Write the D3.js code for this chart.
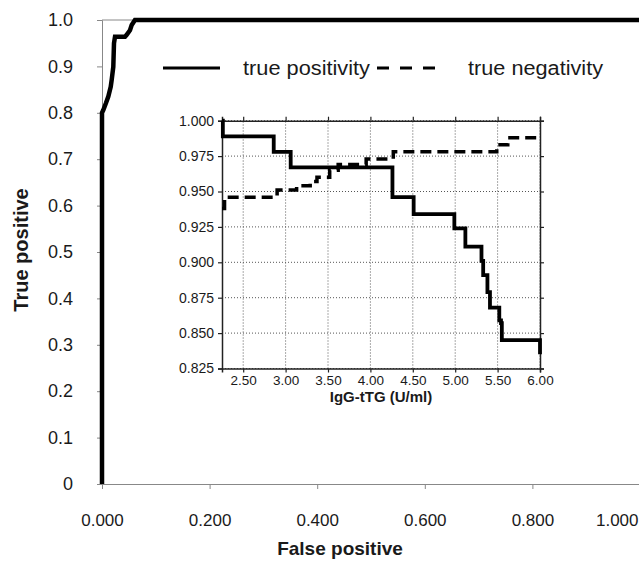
<!DOCTYPE html>
<html><head><meta charset="utf-8">
<script src="https://cdn.jsdelivr.net/npm/d3@7"></script>
<style>body{margin:0;background:#fff}svg{display:block}text{font-family:Arial,"Liberation Sans",sans-serif;fill:#1a1a1a}</style>
</head><body>
<script>
// ---- Main ROC data (false positive rate, true positive rate)
const rocFP = [0, 0, 0.0024, 0.0074, 0.0117, 0.0162, 0.018, 0.021, 0.0223, 0.0242, 0.0428, 0.0459, 0.052, 0.0552, 0.0613, 1.0];
const rocTP = [0, 0.80, 0.806, 0.821, 0.835, 0.856, 0.871, 0.899, 0.950, 0.964, 0.964, 0.968, 0.978, 0.989, 1.0, 1.0];
const mainXTicks = [0, 0.2, 0.4, 0.6, 0.8, 1.0];
const mainXLabels = ["0.000", "0.200", "0.400", "0.600", "0.800", "1.000"];
const mainYTicks = [0, 0.1, 0.2, 0.3, 0.4, 0.5, 0.6, 0.7, 0.8, 0.9, 1.0];
const mainYLabels = ["0", "0.1", "0.2", "0.3", "0.4", "0.5", "0.6", "0.7", "0.8", "0.9", "1.0"];

// ---- Inset data: cut-off (IgG-tTG U/ml) vs positivity / negativity
const posCut = [2.25, 2.26, 2.86, 3.06, 4.26, 4.51, 4.99, 5.12, 5.31, 5.33, 5.38, 5.41, 5.52, 5.54, 5.55, 6.00];
const truePositivity = [1.000, 0.989, 0.978, 0.967, 0.946, 0.934, 0.924, 0.911, 0.901, 0.891, 0.879, 0.868, 0.859, 0.857, 0.845, 0.835];
const negCut = [2.25, 2.28, 2.90, 3.13, 3.29, 3.37, 3.52, 3.62, 3.95, 4.27, 5.49, 5.62, 6.00];
const trueNegativity = [0.938, 0.946, 0.951, 0.954, 0.957, 0.960, 0.965, 0.969, 0.973, 0.978, 0.983, 0.988, 0.988];
const insetXTicks = [2.5, 3.0, 3.5, 4.0, 4.5, 5.0, 5.5, 6.0];
const insetYTicks = [0.825, 0.85, 0.875, 0.9, 0.925, 0.95, 0.975, 1.0];
const legendLabels = ["true positivity", "true negativity"];

const W = 639, H = 561;
const svg = d3.select("body").append("svg").attr("width", W).attr("height", H);
svg.append("rect").attr("width", W).attr("height", H).attr("fill", "#fff");

// ---- Main chart
const x = d3.scaleLinear().domain([0, 1]).range([102, 640]);
const y = d3.scaleLinear().domain([0, 1]).range([484, 20]);

// plot border (top)
svg.append("line").attr("x1", x(0)).attr("x2", W).attr("y1", y(1)).attr("y2", y(1))
  .attr("stroke", "#888").attr("stroke-width", 1);

const gx = svg.append("g").attr("transform", `translate(0,${y(0)})`)
  .call(d3.axisBottom(x).tickValues(mainXTicks).tickFormat((d, i) => mainXLabels[i]).tickSizeOuter(0).tickSize(5).tickPadding(25));
const gy = svg.append("g").attr("transform", `translate(${x(0)},0)`)
  .call(d3.axisLeft(y).tickValues(mainYTicks).tickFormat((d, i) => mainYLabels[i]).tickSizeOuter(0).tickSize(5).tickPadding(24));
[gx, gy].forEach(g => {
  g.select(".domain").attr("stroke", "#888");
  g.selectAll(".tick line").attr("stroke", "#888");
  g.selectAll("text").style("font-size", "17px").attr("fill", "#1a1a1a");
});
gy.selectAll("text").style("font-size", "18px");
// keep last x label inside the picture
gx.selectAll(".tick").filter(d => d === 1).select("text").attr("text-anchor", "end").attr("x", W - x(1) - 1);

svg.append("text").attr("x", 340).attr("y", 555).attr("text-anchor", "middle")
  .style("font-size", "19px").style("font-weight", "bold").text("False positive");
svg.append("text").attr("transform", "translate(28,250) rotate(-90)").attr("text-anchor", "middle")
  .style("font-size", "20px").style("font-weight", "bold").text("True positive");

const roc = d3.line().x(d => x(d[0])).y(d => y(d[1]));
svg.append("path").datum(rocFP.map((v, i) => [v, rocTP[i]]))
  .attr("d", roc).attr("fill", "none").attr("stroke", "#000").attr("stroke-width", 4.5)
  .attr("stroke-linejoin", "miter");

// ---- Legend
svg.append("line").attr("x1", 163).attr("x2", 220).attr("y1", 68).attr("y2", 68).attr("stroke", "#000").attr("stroke-width", 3);
svg.append("text").attr("x", 243).attr("y", 75).style("font-size", "20px")
  .attr("textLength", 127).attr("lengthAdjust", "spacingAndGlyphs").text(legendLabels[0]);
svg.append("line").attr("x1", 377).attr("x2", 435).attr("y1", 68).attr("y2", 68).attr("stroke", "#000").attr("stroke-width", 3)
  .attr("stroke-dasharray", "12,11");
svg.append("text").attr("x", 468).attr("y", 75).style("font-size", "20px")
  .attr("textLength", 135).attr("lengthAdjust", "spacingAndGlyphs").text(legendLabels[1]);

// ---- Inset
const ix = d3.scaleLinear().domain([2.25, 6.0]).range([222, 540]);
const iy = d3.scaleLinear().domain([0.825, 1.0]).range([368.5, 120.7]);
const inset = svg.append("g");

// dotted grid
inset.selectAll(".vg").data(insetXTicks).join("line")
  .attr("x1", d => ix(d)).attr("x2", d => ix(d)).attr("y1", iy(0.825)).attr("y2", iy(1))
  .attr("stroke", "#555").attr("stroke-width", 1).attr("stroke-dasharray", "1,2");
inset.selectAll(".hg").data(insetYTicks).join("line")
  .attr("x1", ix(2.25)).attr("x2", ix(6)).attr("y1", d => iy(d)).attr("y2", d => iy(d))
  .attr("stroke", "#555").attr("stroke-width", 1).attr("stroke-dasharray", "1,2");

const iB = inset.append("g").attr("transform", `translate(0,${iy(0.825)})`)
  .call(d3.axisBottom(ix).tickValues(insetXTicks).tickFormat(d3.format(".2f")).tickSizeOuter(0).tickSize(4).tickPadding(3));
const iT = inset.append("g").attr("transform", `translate(0,${iy(1)})`)
  .call(d3.axisTop(ix).tickValues(insetXTicks).tickFormat("").tickSizeOuter(0).tickSize(4));
const iL = inset.append("g").attr("transform", `translate(${ix(2.25)},0)`)
  .call(d3.axisLeft(iy).tickValues(insetYTicks).tickFormat(d3.format(".3f")).tickSizeOuter(0).tickSize(4).tickPadding(4));
const iR = inset.append("g").attr("transform", `translate(${ix(6)},0)`)
  .call(d3.axisRight(iy).tickValues(insetYTicks).tickFormat("").tickSizeOuter(0).tickSize(4));
[iB, iT, iL, iR].forEach(g => {
  g.select(".domain").attr("stroke", "#222").attr("stroke-width", 1.5);
  g.selectAll(".tick line").attr("stroke", "#222").attr("stroke-width", 1.2);
  g.selectAll("text").style("font-size", "14px").attr("fill", "#1a1a1a");
});
iB.selectAll("text").style("font-size", "13.5px");
inset.append("text").attr("x", 381).attr("y", 402).attr("text-anchor", "middle")
  .style("font-size", "15px").style("font-weight", "bold").text("IgG-tTG (U/ml)");

const step = d3.line().x(d => ix(d[0])).y(d => iy(d[1])).curve(d3.curveStepAfter);
inset.append("path").datum(negCut.map((v, i) => [v, trueNegativity[i]]))
  .attr("d", step).attr("fill", "none").attr("stroke", "#000").attr("stroke-width", 3.5)
  .attr("stroke-dasharray", "11,6");
inset.append("path").datum(posCut.map((v, i) => [v, truePositivity[i]]))
  .attr("d", step).attr("fill", "none").attr("stroke", "#000").attr("stroke-width", 3.8);
</script>
</body></html>
